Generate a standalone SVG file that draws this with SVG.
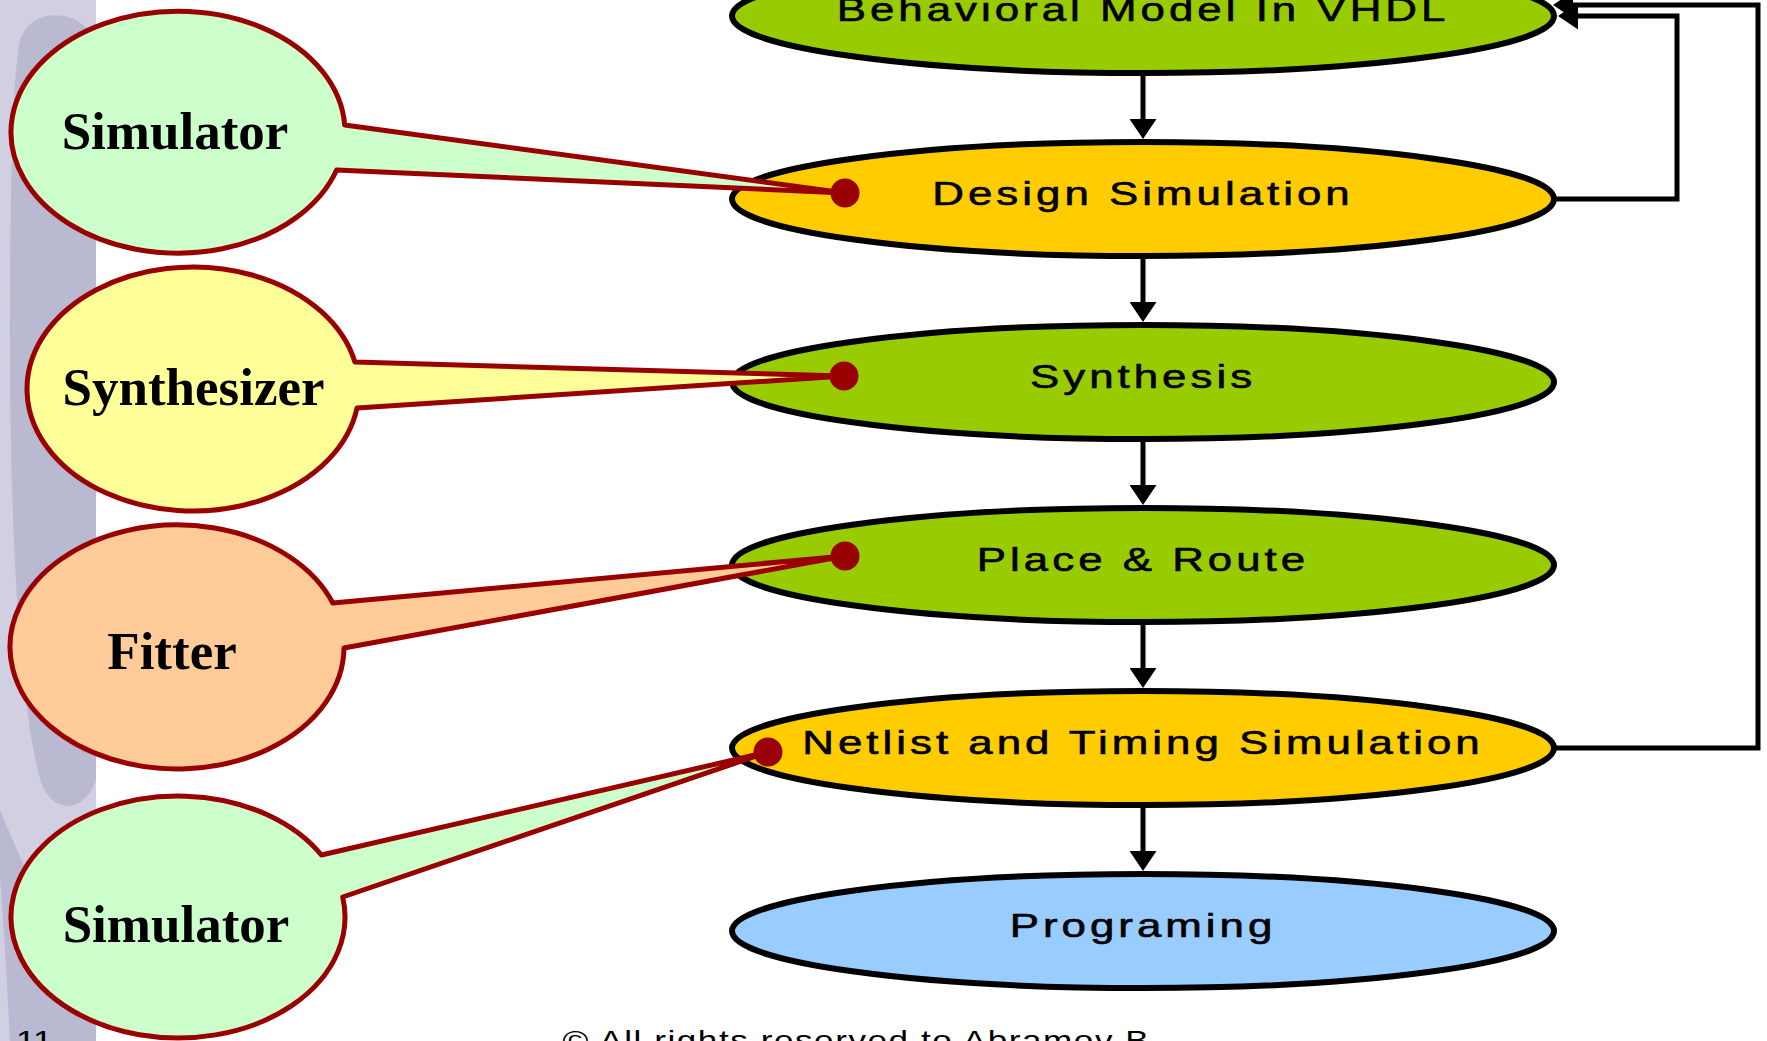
<svg xmlns="http://www.w3.org/2000/svg" width="1767" height="1041" viewBox="0 0 1767 1041">
<defs>
<style>
.flow ellipse{stroke:#000;stroke-width:6}
.lbl{font-family:"Liberation Sans",Arial,sans-serif;font-size:33px;fill:#000;stroke:#000;stroke-width:0.6;text-anchor:middle;letter-spacing:3px}
.callout path{stroke:#990000;stroke-width:5;stroke-linejoin:round}
.ctext{font-family:"Liberation Serif","Times New Roman",serif;font-weight:bold;font-size:53px;text-anchor:middle;fill:#000}
.dot{fill:#990000}
.conn{fill:none;stroke:#000;stroke-width:5}
.foot{font-family:"Liberation Sans",Arial,sans-serif;font-size:27px;fill:#000}
</style>
<marker id="ah" markerUnits="userSpaceOnUse" markerWidth="21" markerHeight="27" viewBox="0 0 21 27" refX="9" refY="13.5" orient="auto"><path d="M0,0 L20,13.5 L0,27 z" fill="#000"/></marker>
<clipPath id="strip"><rect x="0" y="0" width="96" height="1041"/></clipPath>
</defs>
<g id="background">
<rect x="0" y="0" width="1767" height="1041" fill="#fff"/>
<rect x="0" y="0" width="96" height="1041" fill="#D0D0E2"/>
<g clip-path="url(#strip)" fill="#B9B9D1">
<path d="M20,40 C30,10 70,8 88,30 L96,60 L96,780 C85,812 55,815 42,785 C15,700 5,450 12,150 C14,90 16,60 20,40 Z"/>
<path d="M0,810 C25,870 60,950 96,990 L96,1041 L10,1041 C6,960 2,900 0,880 Z"/>
</g>
</g>
<g id="node-behavioral" class="flow">
<ellipse cx="1143" cy="16" rx="411" ry="57" fill="#99CC00"/>
<g transform="translate(1143,21) scale(1.33,1)"><text class="lbl">Behavioral Model In VHDL</text></g>
</g>
<g id="node-design-sim" class="flow">
<ellipse cx="1143" cy="199" rx="411" ry="57" fill="#FFCC00"/>
<g transform="translate(1143,204.5) scale(1.33,1)"><text class="lbl">Design Simulation</text></g>
</g>
<g id="node-synthesis" class="flow">
<ellipse cx="1143" cy="382" rx="411" ry="57" fill="#99CC00"/>
<g transform="translate(1143,388) scale(1.33,1)"><text class="lbl">Synthesis</text></g>
</g>
<g id="node-place-route" class="flow">
<ellipse cx="1143" cy="565" rx="411" ry="57" fill="#99CC00"/>
<g transform="translate(1143,570.5) scale(1.33,1)"><text class="lbl">Place &amp; Route</text></g>
</g>
<g id="node-netlist" class="flow">
<ellipse cx="1143" cy="748" rx="411" ry="57" fill="#FFCC00"/>
<g transform="translate(1143,753.5) scale(1.33,1)"><text class="lbl">Netlist and Timing Simulation</text></g>
</g>
<g id="node-programing" class="flow">
<ellipse cx="1143" cy="931" rx="411" ry="57" fill="#99CCFF"/>
<g transform="translate(1143,937) scale(1.33,1)"><text class="lbl">Programing</text></g>
</g>
<g id="connectors" class="conn">
<path d="M1143,75 V128" marker-end="url(#ah)"/>
<path d="M1143,258 V311" marker-end="url(#ah)"/>
<path d="M1143,441 V494" marker-end="url(#ah)"/>
<path d="M1143,624 V677" marker-end="url(#ah)"/>
<path d="M1143,807 V860" marker-end="url(#ah)"/>
<path d="M1553,199 H1677 V16 H1569" marker-end="url(#ah)"/>
<path d="M1553,748 H1758 V5 H1564" marker-end="url(#ah)"/>
</g>
<g id="callout-simulator-1" class="callout">
<path d="M344.7,125 L845,193 L336.6,170 A167,121 0 1 1 344.7,125 Z" fill="#CCFFCC"/>
<text class="ctext" x="175" y="149">Simulator</text>
<circle class="dot" cx="845" cy="193" r="14.5"/>
</g>
<g id="callout-synthesizer" class="callout">
<path d="M354.9,362 L844,376 L357,408 A166,122 0 1 1 354.9,362 Z" fill="#FFFF99"/>
<text class="ctext" x="193.5" y="405">Synthesizer</text>
<circle class="dot" cx="844" cy="376" r="14.5"/>
</g>
<g id="callout-fitter" class="callout">
<path d="M332.8,603 L845,556 L344,648 A167,122 0 1 1 332.8,603 Z" fill="#FFCC99"/>
<text class="ctext" x="172" y="669">Fitter</text>
<circle class="dot" cx="845" cy="556" r="14.5"/>
</g>
<g id="callout-simulator-2" class="callout">
<path d="M321.4,855 L768,752 L342.7,897 A167,121 0 1 1 321.4,855 Z" fill="#CCFFCC"/>
<text class="ctext" x="176" y="942">Simulator</text>
<circle class="dot" cx="768" cy="752" r="14.5"/>
</g>
<g id="footer">
<g transform="translate(16,1050) scale(1.3,1)"><text class="foot">11</text></g>
<g transform="translate(862,1050) scale(1.3,1)"><text class="foot" text-anchor="middle" letter-spacing="1.2">© All rights reserved to Abramov B.</text></g>
</g>
</svg>
